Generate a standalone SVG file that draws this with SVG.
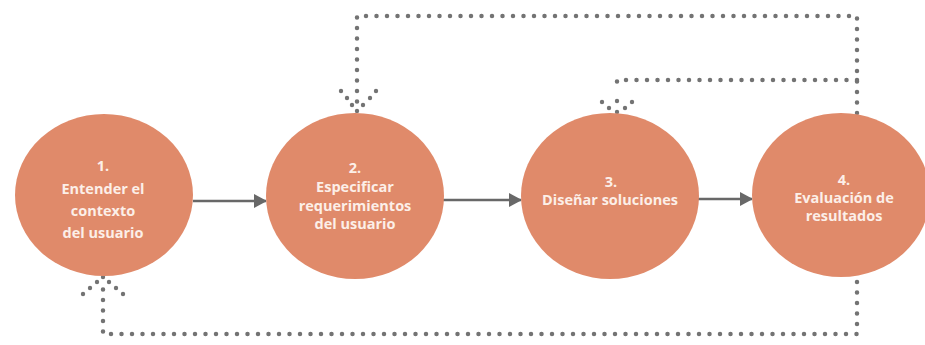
<svg xmlns="http://www.w3.org/2000/svg" width="925" height="345" viewBox="0 0 925 345">
<defs>
<style>
.node{fill:#e08a6a}
.lbl{font-family:"Open Sans","Noto Sans","DejaVu Sans",sans-serif;font-weight:700;font-size:14.5px;fill:#fcefe8;text-anchor:middle}
.arr{stroke:#686868;stroke-width:2.5;fill:none}
.dot{stroke:#737373;stroke-width:4.5;stroke-linecap:round;fill:none;stroke-dasharray:0 10.5}
.d{fill:#737373}
</style>
<marker id="ah" markerWidth="14" markerHeight="14" refX="12" refY="7" orient="auto" markerUnits="userSpaceOnUse">
<path d="M0,0 L13,7 L0,14 Z" fill="#686868"/>
</marker>
</defs>
<rect width="925" height="345" fill="#ffffff"/>
<g id="connectors">
<path class="arr" d="M193,201 H266" marker-end="url(#ah)"/>
<path class="arr" d="M443,200 H521" marker-end="url(#ah)"/>
<path class="arr" d="M698,199 H752" marker-end="url(#ah)"/>
<path class="dot" d="M857,113 V16 H357 V102"/>
<path class="dot" d="M857,80 H617 V90"/>
<path class="dot" d="M857,282 V334 H103 V286"/>
<g class="d">
<circle cx="341" cy="91" r="2.2"/><circle cx="347" cy="98" r="2.2"/><circle cx="352" cy="105" r="2.2"/>
<circle cx="357" cy="111" r="2.2"/><circle cx="363" cy="105" r="2.2"/><circle cx="370" cy="98" r="2.2"/><circle cx="376" cy="91" r="2.2"/>
<circle cx="602" cy="102" r="2.2"/><circle cx="609" cy="108" r="2.2"/><circle cx="617" cy="101" r="2.2"/>
<circle cx="617" cy="112" r="2.2"/><circle cx="625" cy="108" r="2.2"/><circle cx="632" cy="102" r="2.2"/>
<circle cx="83" cy="294" r="2.2"/><circle cx="90" cy="288" r="2.2"/><circle cx="97" cy="282" r="2.2"/>
<circle cx="103" cy="277" r="2.2"/><circle cx="109" cy="282" r="2.2"/><circle cx="116" cy="288" r="2.2"/><circle cx="123" cy="294" r="2.2"/>
</g>
</g>
<g id="node1">
<ellipse class="node" cx="104" cy="195" rx="89" ry="81"/>
<text class="lbl" x="103" y="171">1.</text>
<text class="lbl" x="103" y="194">Entender el</text>
<text class="lbl" x="103" y="216">contexto</text>
<text class="lbl" x="103" y="238">del usuario</text>
</g>
<g id="node2">
<ellipse class="node" cx="355" cy="196" rx="89" ry="83"/>
<text class="lbl" x="355" y="173">2.</text>
<text class="lbl" x="355" y="192">Especificar</text>
<text class="lbl" x="355" y="211">requerimientos</text>
<text class="lbl" x="355" y="229">del usuario</text>
</g>
<g id="node3">
<ellipse class="node" cx="610" cy="196" rx="89" ry="83"/>
<text class="lbl" x="611" y="187">3.</text>
<text class="lbl" x="610" y="205">Diseñar soluciones</text>
</g>
<g id="node4">
<ellipse class="node" cx="841" cy="195" rx="89" ry="82"/>
<text class="lbl" x="844" y="185">4.</text>
<text class="lbl" x="844" y="203">Evaluación de</text>
<text class="lbl" x="844" y="221">resultados</text>
</g>
</svg>
